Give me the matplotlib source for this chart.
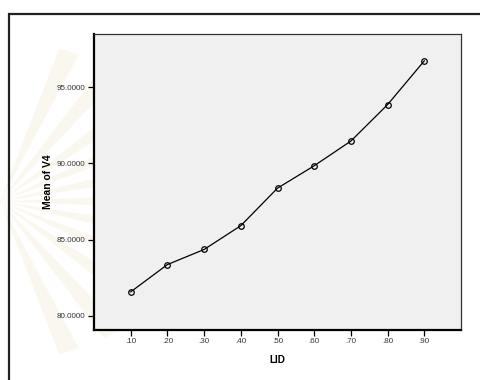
import numpy as np
import matplotlib
matplotlib.use('Agg')
import matplotlib.pyplot as plt
from matplotlib.patches import Wedge, Rectangle

# Werte
lid = [0.10, 0.20, 0.30, 0.40, 0.50, 0.60, 0.70, 0.80, 0.90]
mean_v4 = [81.58, 83.37, 84.36, 85.92, 88.38, 89.85, 91.47, 93.86, 96.73]
x_ticks = [0.10, 0.20, 0.30, 0.40, 0.50, 0.60, 0.70, 0.80, 0.90]
x_labels = ['.10', '.20', '.30', '.40', '.50', '.60', '.70', '.80', '.90']
y_ticks = [80, 85, 90, 95]
y_labels = ['80.0000', '85.0000', '90.0000', '95.0000']

plt.rcParams['font.family'] = ['Liberation Sans', 'DejaVu Sans']

W, H = 481, 380
fig = plt.figure(figsize=(W / 100, H / 100), dpi=100)
fig.patch.set_facecolor('white')

# blasses Wasserzeichen links (Strahlen)
for ang in range(-70, 80, 14):
    fig.patches.append(Wedge((0.0, 0.47), 0.42, ang - 3, ang + 3,
                             transform=fig.transFigure, facecolor='#f6f1e0',
                             edgecolor='none', alpha=0.5, zorder=0))

# äußerer Rahmen
fig.patches.append(Rectangle((9 / W, -0.05), 1.2, (H - 14) / H + 0.05,
                             transform=fig.transFigure, fill=False,
                             edgecolor='#222222', linewidth=1.6, zorder=1))

ax = fig.add_axes([94 / W, 1 - 330 / H, (461 - 94) / W, (330 - 34) / H])
ax.set_zorder(3)
ax.set_facecolor('#f0f0f0')
ax.plot(lid, mean_v4, color='black', linewidth=0.9, marker='o',
        markersize=4, markerfacecolor='none', markeredgecolor='black',
        markeredgewidth=0.9)

ax.set_xlim(0.0, 1.0)
ax.set_ylim(79.08, 98.49)
ax.set_xticks(x_ticks)
ax.set_xticklabels(x_labels)
ax.set_yticks(y_ticks)
ax.set_yticklabels(y_labels)
ax.tick_params(axis='both', labelsize=5.8, labelcolor='#333333',
               length=4, width=0.9, color='black', pad=2)

for side in ['left', 'bottom']:
    ax.spines[side].set_linewidth(1.6)
for side in ['top', 'right']:
    ax.spines[side].set_linewidth(0.9)
ax.spines['right'].set_color('#333333')
ax.spines['top'].set_color('#333333')

ax.set_xlabel('LID', fontsize=7.2, fontweight='bold', labelpad=7)
ax.set_ylabel('Mean of V4', fontsize=7.5, fontweight='bold', labelpad=3)

fig.savefig('out.png', dpi=100)
